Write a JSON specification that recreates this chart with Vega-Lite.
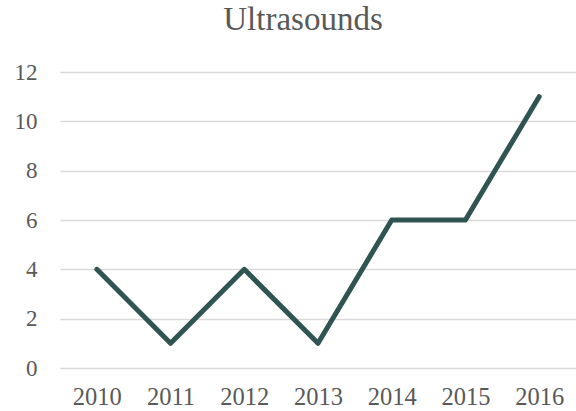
{
  "$schema": "https://vega.github.io/schema/vega-lite/v6.json",
  "autosize": "none",
  "width": 516,
  "height": 296,
  "padding": {"left": 60, "top": 72, "right": 0, "bottom": 43},
  "background": "white",
  "title": {"text": "Ultrasounds", "font": "Liberation Serif", "fontSize": 33, "fontWeight": "normal", "color": "#595959", "anchor": "middle", "dx": -15, "offset": 24},
  "data": {"values": [
    {"year": "2010", "count": 4},
    {"year": "2011", "count": 1},
    {"year": "2012", "count": 4},
    {"year": "2013", "count": 1},
    {"year": "2014", "count": 6},
    {"year": "2015", "count": 6},
    {"year": "2016", "count": 11}
  ]},
  "mark": {"type": "line", "color": "#2F5451", "strokeWidth": 5, "strokeCap": "round", "strokeJoin": "round"},
  "encoding": {
    "x": {"field": "year", "type": "ordinal", "scale": {"paddingInner": 0, "paddingOuter": 0.5}, "axis": {"title": null, "labelAngle": 0, "domain": false, "ticks": false, "labelFont": "Liberation Serif", "labelFontSize": 24.5, "labelColor": "#595959", "labelPadding": 17, "grid": false}},
    "y": {"field": "count", "type": "quantitative", "scale": {"domain": [0, 12]}, "axis": {"title": null, "values": [0,2,4,6,8,10,12], "domain": false, "ticks": false, "labelFont": "Liberation Serif", "labelFontSize": 23, "labelColor": "#595959", "labelPadding": 23, "gridColor": "#D9D9D9", "gridWidth": 1.3}}
  },
  "config": {"view": {"stroke": null}}
}
